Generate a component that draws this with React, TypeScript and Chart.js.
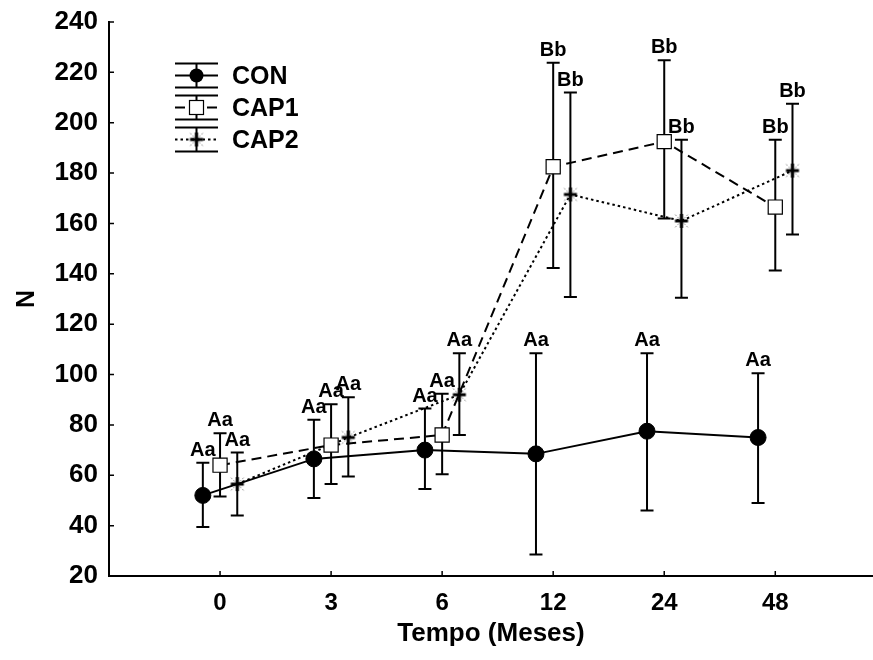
import React, { useEffect, useRef } from 'react';
import { Chart, registerables } from 'chart.js';

Chart.register(...registerables);

// ---------- data ----------
const categories = ['0', '3', '6', '12', '24', '48'];
const yTicks = [20, 40, 60, 80, 100, 120, 140, 160, 180, 200, 220, 240];

const conMean = [52, 66.5, 70, 68.5, 77.5, 75];
const conUpper = [65, 82, 86.5, 108.5, 108.5, 100.5];
const conLower = [39.5, 51, 54.5, 28.5, 46, 49];
const conLetters = ['Aa', 'Aa', 'Aa', 'Aa', 'Aa', 'Aa'];

const cap1Mean = [64, 72, 76, 182.5, 192.5, 166.5];
const cap1Upper = [76.7, 88.2, 92.4, 223.8, 224.8, 193.2];
const cap1Lower = [51.6, 56.5, 60.4, 142.3, 162, 141.3];
const cap1Letters = ['Aa', 'Aa', 'Aa', 'Bb', 'Bb', 'Bb'];

const cap2Mean = [56.5, 75, 92, 171.5, 161, 181];
const cap2Upper = [69, 91, 108.5, 212, 193.2, 207.5];
const cap2Lower = [44, 59.5, 76, 130.8, 130.5, 155.6];
const cap2Letters = ['Aa', 'Aa', 'Aa', 'Bb', 'Bb', 'Bb'];

const seriesNames = ['CON', 'CAP1', 'CAP2'];

// ---------- styles ----------
const FONT = "'Liberation Sans', Arial, Helvetica, sans-serif";
const X_OFFSETS = [-0.155, 0, 0.155];
const DASHES: number[][] = [[], [10, 6], [2.5, 3]];

function makeStar(): HTMLCanvasElement {
  const c = document.createElement('canvas');
  c.width = 22;
  c.height = 22;
  const ctx = c.getContext('2d') as CanvasRenderingContext2D;
  const cx = 11, cy = 11;
  ctx.strokeStyle = '#8c8c8c';
  ctx.lineWidth = 1;
  ctx.setLineDash([2, 1.5]);
  for (const a of [45, 135, 225, 315]) {
    const r = (a * Math.PI) / 180;
    ctx.beginPath();
    ctx.moveTo(cx + Math.cos(r) * 3.5, cy + Math.sin(r) * 3.5);
    ctx.lineTo(cx + Math.cos(r) * 9, cy + Math.sin(r) * 9);
    ctx.stroke();
  }
  ctx.setLineDash([]);
  ctx.strokeStyle = '#000';
  ctx.lineWidth = 3;
  ctx.beginPath();
  ctx.moveTo(cx - 6.5, cy);
  ctx.lineTo(cx + 6.5, cy);
  ctx.moveTo(cx, cy - 7);
  ctx.lineTo(cx, cy + 7);
  ctx.stroke();
  return c;
}

export default function App() {
  const ref = useRef<HTMLCanvasElement | null>(null);

  useEffect(() => {
    const canvas = ref.current;
    if (!canvas) return;
    const star = makeStar();

    const series = [
      { name: seriesNames[0], mean: conMean, upper: conUpper, lower: conLower, letters: conLetters },
      { name: seriesNames[1], mean: cap1Mean, upper: cap1Upper, lower: cap1Lower, letters: cap1Letters },
      { name: seriesNames[2], mean: cap2Mean, upper: cap2Upper, lower: cap2Lower, letters: cap2Letters },
    ];

    const pointStyles: any[] = ['circle', 'rect', star];
    const pointRadii = [8, 10, 9];
    const pointBg = ['#000', '#fff', '#000'];
    const pointBorderW = [1, 1.2, 0];

    const datasets = series.map((s, si) => ({
      label: s.name,
      data: s.mean.map((v, i) => ({ x: i + X_OFFSETS[si], y: v })),
      borderColor: '#000',
      borderWidth: 2,
      borderDash: DASHES[si],
      pointStyle: pointStyles[si],
      pointRadius: pointRadii[si],
      pointHoverRadius: pointRadii[si],
      pointBackgroundColor: pointBg[si],
      pointBorderColor: '#000',
      pointBorderWidth: pointBorderW[si],
      tension: 0,
      fill: false,
    }));

    const errorBars = {
      id: 'errorBars',
      beforeDatasetsDraw(chart: any) {
        const { ctx } = chart;
        const y = chart.scales.y;
        series.forEach((s, si) => {
          const meta = chart.getDatasetMeta(si);
          meta.data.forEach((pt: any, i: number) => {
            const x = pt.x;
            const yt = y.getPixelForValue(s.upper[i]);
            const yb = y.getPixelForValue(s.lower[i]);
            ctx.save();
            ctx.strokeStyle = '#000';
            ctx.lineWidth = 2;
            ctx.setLineDash([]);
            ctx.beginPath();
            ctx.moveTo(x, yt);
            ctx.lineTo(x, yb);
            ctx.moveTo(x - 6.5, yt);
            ctx.lineTo(x + 6.5, yt);
            ctx.moveTo(x - 6.5, yb);
            ctx.lineTo(x + 6.5, yb);
            ctx.stroke();
            ctx.restore();
          });
        });
      },
      afterDatasetsDraw(chart: any) {
        const { ctx } = chart;
        const y = chart.scales.y;
        ctx.save();
        ctx.fillStyle = '#000';
        ctx.font = `bold 20px ${FONT}`;
        ctx.textAlign = 'center';
        ctx.textBaseline = 'alphabetic';
        series.forEach((s, si) => {
          const meta = chart.getDatasetMeta(si);
          meta.data.forEach((pt: any, i: number) => {
            const yt = y.getPixelForValue(s.upper[i]);
            ctx.fillText(s.letters[i], pt.x, yt - 7);
          });
        });
        ctx.restore();
      },
      afterDraw(chart: any) {
        const { ctx, chartArea } = chart;
        const xs = chart.scales.x;
        const ys = chart.scales.y;
        ctx.save();
        ctx.strokeStyle = '#000';
        ctx.lineWidth = 1.5;
        ctx.setLineDash([]);
        ctx.beginPath();
        yTicks.forEach((v) => {
          const py = ys.getPixelForValue(v);
          ctx.moveTo(chartArea.left, py);
          ctx.lineTo(chartArea.left + 5, py);
        });
        categories.forEach((_, i) => {
          const px = xs.getPixelForValue(i);
          ctx.moveTo(px, chartArea.bottom);
          ctx.lineTo(px, chartArea.bottom - 5);
        });
        ctx.stroke();

        // legend
        const rows = [75.5, 107.5, 139.5];
        const x0 = 175, x1 = 218, xc = 196.5, h = 12;
        series.forEach((s, si) => {
          const ry = rows[si];
          ctx.strokeStyle = '#000';
          ctx.lineWidth = 2;
          ctx.setLineDash([]);
          ctx.beginPath();
          ctx.moveTo(x0, ry - h);
          ctx.lineTo(x1, ry - h);
          ctx.moveTo(x0, ry + h);
          ctx.lineTo(x1, ry + h);
          ctx.moveTo(xc, ry - h);
          ctx.lineTo(xc, ry + h);
          ctx.stroke();
          ctx.setLineDash(DASHES[si]);
          ctx.beginPath();
          ctx.moveTo(x0, ry);
          ctx.lineTo(x1, ry);
          ctx.stroke();
          ctx.setLineDash([]);
          if (si === 0) {
            ctx.fillStyle = '#000';
            ctx.beginPath();
            ctx.arc(xc, ry, 7, 0, Math.PI * 2);
            ctx.fill();
          } else if (si === 1) {
            ctx.fillStyle = '#fff';
            ctx.fillRect(xc - 7, ry - 7, 14, 14);
            ctx.lineWidth = 1.2;
            ctx.strokeRect(xc - 7, ry - 7, 14, 14);
          } else {
            ctx.drawImage(star, xc - 11, ry - 11);
          }
          ctx.fillStyle = '#000';
          ctx.font = `bold 25px ${FONT}`;
          ctx.textAlign = 'left';
          ctx.textBaseline = 'middle';
          ctx.fillText(s.name, 232, ry + 1.5);
        });
        ctx.restore();
      },
    };

    const chart = new Chart(canvas, {
      type: 'line',
      data: { datasets: datasets as any },
      plugins: [errorBars],
      options: {
        responsive: false,
        animation: false,
        devicePixelRatio: 1,
        events: [],
        layout: { autoPadding: false, padding: { top: 22, right: 0, left: 0, bottom: 0 } },
        plugins: {
          legend: { display: false },
          tooltip: { enabled: false },
        },
        scales: {
          x: {
            type: 'linear',
            min: -1,
            max: 5.88,
            afterBuildTicks: (s: any) => {
              s.ticks = categories.map((_, i) => ({ value: i }));
            },
            afterFit: (s: any) => {
              s.height = 84;
              s.paddingLeft = 0;
              s.paddingRight = 0;
            },
            ticks: {
              callback: (v: any) => categories[v as number] ?? '',
              font: { family: FONT, size: 24, weight: 'bold' },
              color: '#000',
              padding: 13,
              autoSkip: false,
              maxRotation: 0,
            },
            grid: { display: true, drawOnChartArea: false, drawTicks: false, color: 'rgba(0,0,0,0)' },
            border: { display: true, color: '#000', width: 2 },
            title: {
              display: true,
              text: 'Tempo (Meses)',
              font: { family: FONT, size: 26, weight: 'bold' },
              color: '#000',
              padding: { top: 0, bottom: 11 },
            },
          },
          y: {
            type: 'linear',
            min: 20,
            max: 240,
            afterBuildTicks: (s: any) => {
              s.ticks = yTicks.map((v) => ({ value: v }));
            },
            afterFit: (s: any) => {
              s.width = 109;
              s.paddingTop = 0;
              s.paddingBottom = 0;
            },
            ticks: {
              font: { family: FONT, size: 26, weight: 'bold' },
              color: '#000',
              padding: 11,
            },
            grid: { display: true, drawOnChartArea: false, drawTicks: false, color: 'rgba(0,0,0,0)' },
            border: { display: true, color: '#000', width: 2 },
            title: {
              display: true,
              text: 'N',
              font: { family: FONT, size: 25, weight: 'bold' },
              color: '#000',
              padding: { top: 12, bottom: 0 },
            },
          },
        },
      } as any,
    });

    return () => chart.destroy();
  }, []);

  return (
    <div style={{ position: 'absolute', left: 0, top: 0, width: 873, height: 660, background: '#fff' }}>
      <canvas ref={ref} width={873} height={660} style={{ display: 'block' }} />
    </div>
  );
}
